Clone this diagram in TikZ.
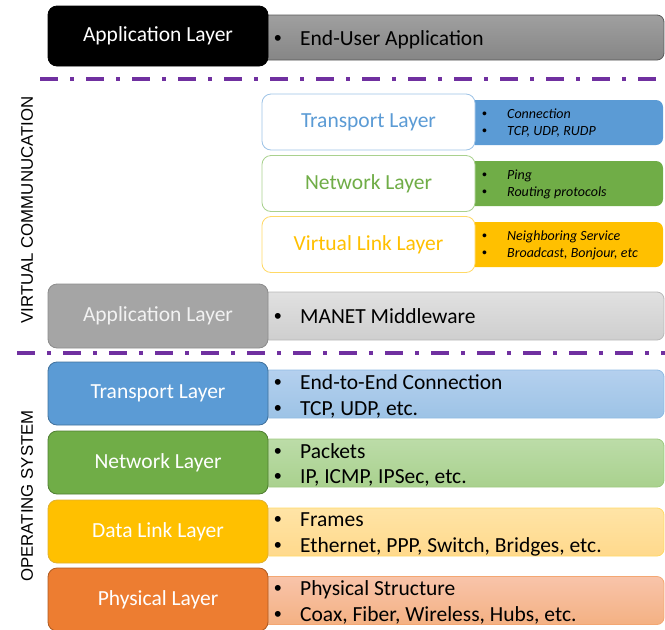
\documentclass[tikz,border=0pt]{standalone}
\usepackage{fontspec}
\setmainfont{Carlito}
\newfontfamily\arialfont{Liberation Sans}
\definecolor{cblue}{HTML}{5B9BD5}
\definecolor{cblued}{HTML}{41719C}
\definecolor{cbluel}{HTML}{9DC3E6}
\definecolor{cbluelt}{HTML}{B4D0EE}
\definecolor{cgreen}{HTML}{70AD47}
\definecolor{cgreend}{HTML}{507E32}
\definecolor{cgreenl}{HTML}{A9D18E}
\definecolor{cgreenlt}{HTML}{BCDCA8}
\definecolor{cyel}{HTML}{FFC000}
\definecolor{cyeld}{HTML}{E0B030}
\definecolor{cyell}{HTML}{FFD966}
\definecolor{cyellt}{HTML}{FFE4A6}
\definecolor{cyellb}{HTML}{FFD98C}
\definecolor{corg}{HTML}{ED7D31}
\definecolor{corgd}{HTML}{AE5A21}
\definecolor{corgl}{HTML}{F4B183}
\definecolor{corglt}{HTML}{F8C4AA}
\definecolor{cgray}{HTML}{A5A5A5}
\definecolor{cgrayd}{HTML}{8C8C8C}
\definecolor{cpurple}{HTML}{7030A0}
\newcommand\bl[2]{\makebox[#1][l]{\upshape\arialfont\textbullet}#2}
\begin{document}
\begin{tikzpicture}[x=1pt,y=-1pt,
  lbox/.style={rounded corners=9pt, minimum width=220pt, text=white, font=\fontsize{21.5}{24}\selectfont, line width=0.8pt, inner sep=0pt},
  rbox/.style={rounded corners=7pt, minimum width=402pt, minimum height=48pt, line width=0.8pt, inner sep=0pt},
  vlbox/.style={rounded corners=9pt, minimum width=213pt, minimum height=56pt, fill=white, line width=0.8pt, inner sep=0pt, font=\fontsize{21.5}{24}\selectfont},
  vrbox/.style={rounded corners=7pt, minimum width=195pt, minimum height=45pt, inner sep=0pt},
  btext/.style={anchor=base west, inner sep=0pt, font=\fontsize{21.5}{26}\selectfont},
  itext/.style={anchor=base west, inner sep=0pt, font=\fontsize{14}{17}\selectfont\itshape},
  sepline/.style={draw=cpurple, line width=3.5pt, dash pattern=on 18pt off 12pt on 4pt off 12pt},
  vtext/.style={rotate=90, inner sep=0pt, font=\arialfont\fontsize{16.8}{18}\selectfont}
]
\useasboundingbox (0,0) rectangle (665,630);
\clip (0,0) rectangle (665,630);

% ---------- top application layer ----------
\node[rbox, minimum height=45pt, top color=gray!75, bottom color=gray!95, draw=black!65] (r0) at (463,37.5) {};
\node[lbox, minimum height=60pt, fill=black, draw=black] (l0) at (158,36) {Application Layer};
\node[btext] (t0) at (274,45) {\bl{26pt}{End-User Application}};

\coordinate (s1a) at (40,79);
\coordinate (s1b) at (665,79);
\draw[sepline] (s1a) -- (s1b);

% ---------- virtual layers ----------
\node[vrbox, fill=cblue] (vr1) at (565.5,122.5) {};
\node[vlbox, draw=cbluel, text=cblue] (vl1) at (368.5,122) {Transport Layer};
\node[itext] (vt1a) at (482,118.5) {\bl{25pt}{Connection}};
\node[itext] (vt1b) at (482,135.5) {\bl{25pt}{TCP, UDP, RUDP}};

\node[vrbox, fill=cgreen] (vr2) at (565.5,183.5) {};
\node[vlbox, draw=cgreenl, text=cgreen] (vl2) at (368.5,183.5) {Network Layer};
\node[itext] (vt2a) at (482,179.5) {\bl{25pt}{Ping}};
\node[itext] (vt2b) at (482,196.5) {\bl{25pt}{Routing protocols}};

\node[vrbox, fill=cyel] (vr3) at (565.5,244.5) {};
\node[vlbox, draw=cyell, text=cyel] (vl3) at (368.5,244.5) {Virtual Link Layer};
\node[itext] (vt3a) at (482,240.5) {\bl{25pt}{Neighboring Service}};
\node[itext] (vt3b) at (482,257.5) {\bl{25pt}{Broadcast, Bonjour, etc}};

% ---------- MANET application layer ----------
\node[rbox, top color=black!12, bottom color=black!19, draw=black!28] (r5) at (463,316) {};
\node[lbox, minimum height=64pt, fill=cgray, draw=cgrayd, text=black!5] (l5) at (158,316) {Application Layer};
\node[btext] (t5) at (274,323) {\bl{26pt}{MANET Middleware}};

\coordinate (s2a) at (17,353);
\coordinate (s2b) at (665,353);
\draw[sepline] (s2a) -- (s2b);

% ---------- OS layers ----------
\node[rbox, top color=cbluelt, bottom color=cbluel, draw=cbluel!80!cblue] (r6) at (463,394) {};
\node[lbox, minimum height=63pt, fill=cblue, draw=cblued] (l6) at (158,393.5) {Transport Layer};
\node[btext] (t6a) at (274,389) {\bl{26pt}{End-to-End Connection}};
\node[btext] (t6b) at (274,415) {\bl{26pt}{TCP, UDP, etc.}};

\node[rbox, top color=cgreenlt, bottom color=cgreenl, draw=cgreenl!80!cgreen] (r7) at (463,463) {};
\node[lbox, minimum height=63pt, fill=cgreen, draw=cgreend] (l7) at (158,462.5) {Network Layer};
\node[btext] (t7a) at (274,458) {\bl{26pt}{Packets}};
\node[btext] (t7b) at (274,483) {\bl{26pt}{IP, ICMP, IPSec, etc.}};

\node[rbox, top color=cyellt, bottom color=cyellb, draw=cyell] (r8) at (463,532) {};
\node[lbox, minimum height=63pt, fill=cyel, draw=cyeld] (l8) at (158,531.5) {Data Link Layer};
\node[btext] (t8a) at (274,526) {\bl{26pt}{Frames}};
\node[btext] (t8b) at (274,552) {\bl{26pt}{Ethernet, PPP, Switch, Bridges, etc.}};

\node[rbox, top color=corglt, bottom color=corgl, draw=corgl!80!corg] (r9) at (463,600.5) {};
\node[lbox, minimum height=63pt, fill=corg, draw=corgd] (l9) at (158,599.5) {Physical Layer};
\node[btext] (t9a) at (274,595) {\bl{26pt}{Physical Structure}};
\node[btext] (t9b) at (274,621) {\bl{26pt}{Coax, Fiber, Wireless, Hubs, etc.}};

% ---------- side labels ----------
\node[vtext] (vc) at (27,210) {VIRTUAL COMMUNUCATION};
\node[vtext] (os) at (27,496) {OPERATING SYSTEM};
\end{tikzpicture}
\end{document}
